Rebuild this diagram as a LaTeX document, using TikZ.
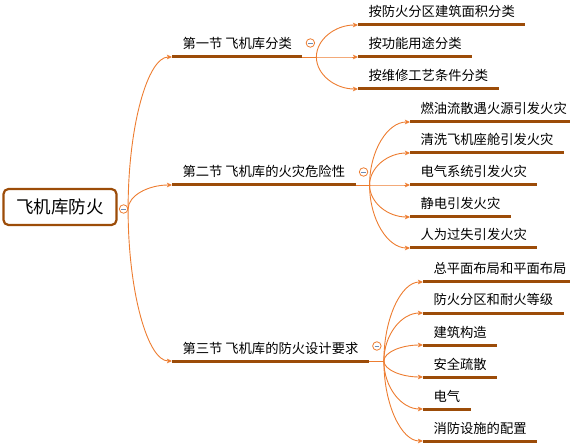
\documentclass[tikz,border=0pt]{standalone}
\usepackage{fontspec}
\newfontfamily\cjk{Noto Sans CJK SC}
\usetikzlibrary{arrows.meta,positioning,calc}
\definecolor{HangarBrown}{RGB}{156,76,8}
\definecolor{LinkOrange}{RGB}{237,125,49}
\definecolor{MinusGrey}{RGB}{110,140,180}

\tikzset{
  root/.style={draw=HangarBrown, line width=2.2pt, rounded corners=5pt,
    minimum width=113pt, minimum height=36pt, font=\cjk\fontsize{17.5}{20}\selectfont},
  uline/.style={draw=HangarBrown, line width=3pt},
  topic/.style={anchor=south west, outer sep=0pt, inner xsep=10.5pt, inner ysep=5pt,
    text height=10pt, text depth=3pt, font=\cjk\fontsize{13.3}{15}\selectfont,
    append after command={(\tikzlastnode.south west) edge[uline] (\tikzlastnode.south east)}},
  branch/.style={draw=LinkOrange, line width=0.9pt},
  link/.style={branch, -{Stealth[length=5pt,width=4.5pt,inset=1pt]}},
  curvy/.style={to path={.. controls ($(\tikztostart)!0.55!(\tikztostart |- \tikztotarget)$)
    and ($(\tikztotarget)!0.55!(\tikztostart |- \tikztotarget)$) .. (\tikztotarget) \tikztonodes}},
  fold/.style={circle, draw=LinkOrange, line width=0.8pt, fill=white, minimum size=8.5pt, inner sep=0pt,
    path picture={\draw[MinusGrey, line width=0.7pt]
      ([xshift=-2.3pt]path picture bounding box.center) -- ([xshift=2.3pt]path picture bounding box.center);}},
}

\begin{document}
\begin{tikzpicture}[x=1pt, y=-1pt]
  \useasboundingbox (0,0) rectangle (570,446);

  % Central topic
  \node[root] (hangar) at (60,207) {飞机库防火};
  \node[fold] (f0) at ([xshift=6pt,yshift=-2pt]hangar.east) {};
  \coordinate (j0) at ([xshift=4.5pt]f0.center);

  % Sections
  \node[topic] (s1) at (172,57) {第一节 飞机库分类};
  \node[topic] (s2) at (172,185) {第二节 飞机库的火灾危险性};
  \node[topic] (s3) at (172,361) {第三节 飞机库的防火设计要求};

  \foreach \s in {s1,s2,s3}
    \draw[link] (j0) to[curvy] (\s.south west);

  % Section 1
  \node[topic] (c11) at (358,25) {按防火分区建筑面积分类};
  \node[topic] (c12) at (358,57) {按功能用途分类};
  \node[topic] (c13) at (358,89) {按维修工艺条件分类};

  % Section 2
  \node[topic] (c21) at (410,122) {燃油流散遇火源引发火灾};
  \node[topic] (c22) at (410,153) {清洗飞机座舱引发火灾};
  \node[topic] (c23) at (410,185) {电气系统引发火灾};
  \node[topic] (c24) at (410,217) {静电引发火灾};
  \node[topic] (c25) at (410,248) {人为过失引发火灾};

  % Section 3
  \node[topic] (c31) at (423,282) {总平面布局和平面布局};
  \node[topic] (c32) at (423,313) {防火分区和耐火等级};
  \node[topic] (c33) at (423,345) {建筑构造};
  \node[topic] (c34) at (423,377) {安全疏散};
  \node[topic] (c35) at (423,409) {电气};
  \node[topic] (c36) at (423,441) {消防设施的配置};

  % Forks
  \coordinate (j1) at ([xshift=14pt]s1.south east);
  \coordinate (j2) at ([xshift=14pt]s2.south east);
  \coordinate (j3) at ([xshift=15pt]s3.south east);
  \draw[branch] (s1.south east) -- (j1);
  \draw[branch] (s2.south east) -- (j2);
  \draw[branch] (s3.south east) -- (j3);

  \foreach \c in {c11,c12,c13}
    \draw[link] (j1) to[curvy] (\c.south west);
  \foreach \c in {c21,c22,c23,c24,c25}
    \draw[link] (j2) to[curvy] (\c.south west);
  \foreach \c in {c31,c32,c33,c34,c35,c36}
    \draw[link] (j3) to[curvy] (\c.south west);

  % Collapse markers
  \node[fold] (f1) at ([xshift=8pt,yshift=14pt]s1.south east) {};
  \node[fold] (f2) at ([xshift=8pt,yshift=13pt]s2.south east) {};
  \node[fold] (f3) at ([xshift=8pt,yshift=15pt]s3.south east) {};
\end{tikzpicture}
\end{document}
